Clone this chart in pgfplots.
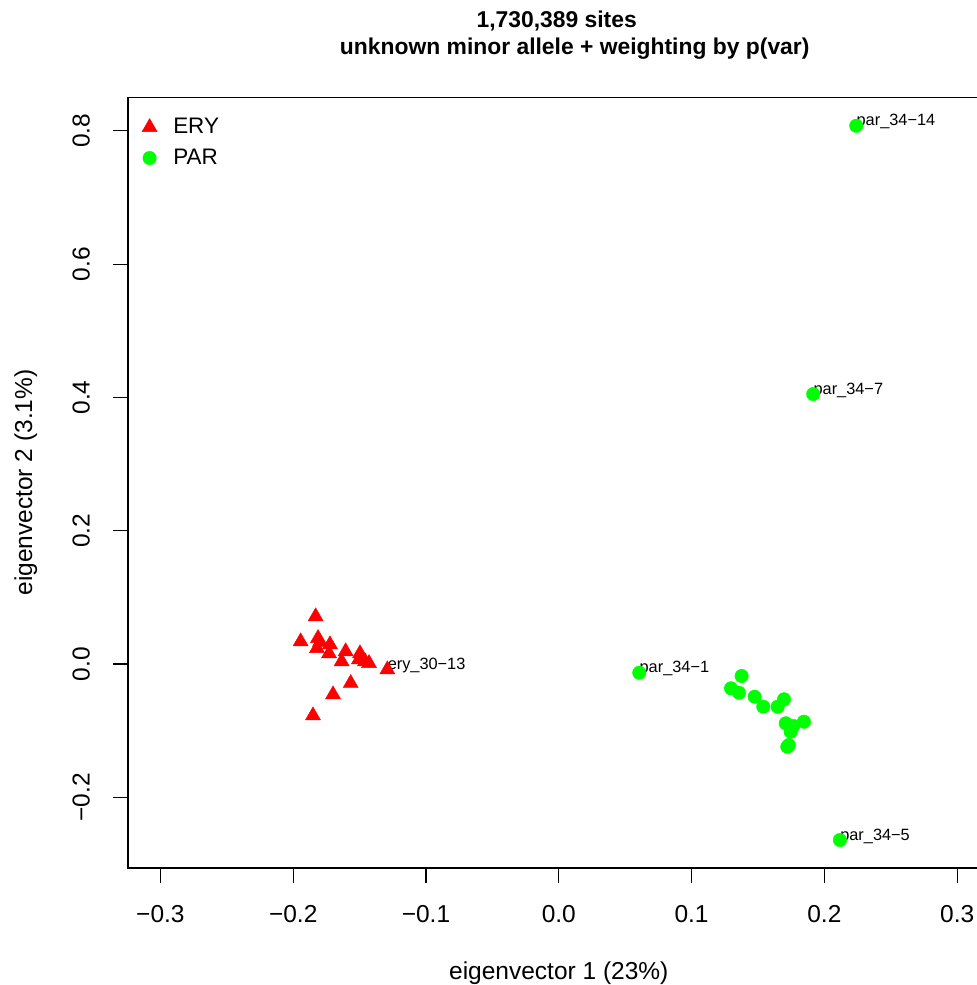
\documentclass[border=0pt]{standalone}
\usepackage{fontspec}
\setmainfont{Liberation Sans}
\usepackage{pgfplots}
\pgfplotsset{compat=1.18}
\definecolor{eryred}{RGB}{255,0,0}
\definecolor{pargreen}{RGB}{0,255,0}
\begin{document}
\begin{tikzpicture}[x=0.4898pt,y=0.4898pt]
\begin{axis}[
  at={(62.694pt,57.307pt)}, anchor=south west, scale only axis,
  width=422.0pt, height=377.6pt,
  xmin=-0.3244, xmax=0.3244, ymin=-0.3061, ymax=0.8507,
  axis line style={line width=0.55pt},
  every tick/.style={black, line width=0.55pt},
  tick align=outside, major tick length=7.35pt,
  xtick pos=bottom, ytick pos=left,
  xtick={-0.3,-0.2,-0.1,0,0.1,0.2,0.3},
  xticklabels={−0.3,−0.2,−0.1,0.0,0.1,0.2,0.3},
  ytick={-0.2,0,0.2,0.4,0.6,0.8},
  yticklabels={−0.2,0.0,0.2,0.4,0.6,0.8},
  tick label style={font=\fontsize{12}{14}\selectfont},
  xticklabel style={anchor=base, inner sep=0pt, yshift=-19.45pt},
  yticklabel style={xshift=-11.41pt, rotate=90, anchor=base, inner sep=0pt},
  xlabel={eigenvector 1 (23\%)}, ylabel={eigenvector 2 (3.1\%)},
  label style={font=\fontsize{12}{14}\selectfont, inner sep=0pt},
  xlabel style={at={(axis description cs:0.5,-0.1441)}, anchor=base},
  ylabel style={at={(axis description cs:-0.1114,0.5)}, anchor=base},
  legend style={at={(axis description cs:0.0159,0.9787)}, anchor=north west,
    draw=none, fill=none, font=\fontsize{11}{13}\selectfont, inner sep=0pt,
    row sep=2pt,
    /tikz/every odd column/.append style={column sep=5.9pt}},
  legend cell align=left,
]
\addplot[only marks, mark=triangle*, mark size=4.25pt,
  mark options={fill=eryred, draw=eryred, line width=0.2pt}] coordinates {
  (-0.1831,0.0713) (-0.1944,0.0338) (-0.1813,0.0387) (-0.1821,0.0237)
  (-0.1798,0.0330) (-0.1723,0.0293) (-0.1730,0.0158) (-0.1605,0.0188)
  (-0.1635,0.0038) (-0.1497,0.0158) (-0.1505,0.0068) (-0.1459,0.0038)
  (-0.1429,0.0012) (-0.1291,-0.0083) (-0.1567,-0.0288) (-0.1700,-0.0458)
  (-0.1851,-0.0773)
};
\addlegendentry{ERY}
\addplot[only marks, mark=*, mark size=3.3pt,
  mark options={fill=pargreen, draw=pargreen, line width=0.2pt}] coordinates {
  (0.0606,-0.0131) (0.1377,-0.0180) (0.1297,-0.0365) (0.1357,-0.0431)
  (0.1475,-0.0491) (0.1540,-0.0641) (0.1696,-0.0530) (0.1648,-0.0641)
  (0.1709,-0.0890) (0.1846,-0.0866) (0.1766,-0.0930) (0.1746,-0.1016)
  (0.1721,-0.1241) (0.1733,-0.1215)
  (0.2240,0.8077) (0.1916,0.4051) (0.2117,-0.2641)
};
\addlegendentry{PAR}
\begin{scope}[every node/.style={anchor=base west, inner sep=0pt, font=\fontsize{8}{9}\selectfont}]
\node at (axis cs:-0.1291,-0.0083) {ery\_30−13};
\node at (axis cs:0.0606,-0.0131) {par\_34−1};
\node at (axis cs:0.2240,0.8077) {par\_34−14};
\node at (axis cs:0.1916,0.4051) {par\_34−7};
\node at (axis cs:0.2117,-0.2641) {par\_34−5};
\end{scope}
\end{axis}
\node[anchor=base, inner sep=0pt, font=\bfseries\fontsize{11.2}{13}\selectfont] at (556.7,957) {1,730,389 sites};
\node[anchor=base, inner sep=0pt, font=\bfseries\fontsize{11.2}{13}\selectfont] at (574.7,930) {unknown minor allele + weighting by p(var)};
\pgfresetboundingbox
\useasboundingbox (0,0) rectangle (976,985);
\end{tikzpicture}
\end{document}
